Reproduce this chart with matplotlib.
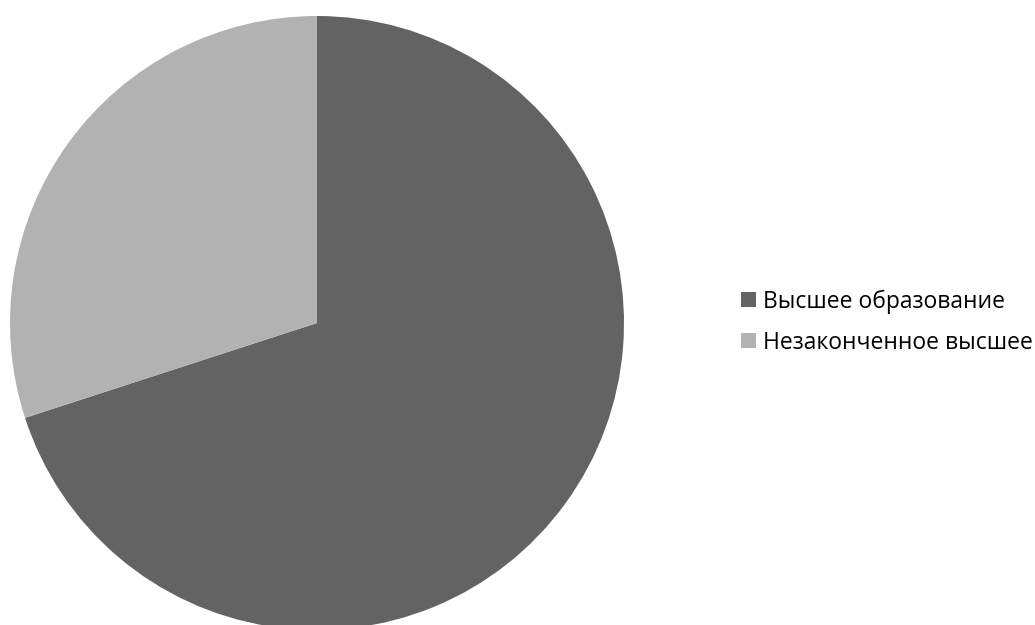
import matplotlib
matplotlib.use("Agg")
import matplotlib.pyplot as plt

categories = ["Высшее образование", "Незаконченное высшее"]
values = [70, 30]
colors = ["#636363", "#b2b2b2"]

W, H = 1035, 625
fig = plt.figure(figsize=(W / 100, H / 100), dpi=100)
cx, cy, r = 317, 323, 307
ax = fig.add_axes([(cx - r) / W, (H - cy - r) / H, 2 * r / W, 2 * r / H])
wedges, _ = ax.pie(values, colors=colors, startangle=90, counterclock=False,
                   radius=1, wedgeprops=dict(linewidth=0))
ax.set_xlim(-1, 1)
ax.set_ylim(-1, 1)
ax.set_aspect("equal")
ax.axis("off")

plt.rcParams['font.family'] = ['Open Sans', 'DejaVu Sans']
leg = fig.legend(wedges, categories, loc="center left",
                 bbox_to_anchor=(741 / W, 1 - 322 / H), frameon=False,
                 prop={'family': ['Open Sans', 'DejaVu Sans'], 'size': 16.5},
                 handlelength=0.65, handleheight=0.65, handletextpad=0.3,
                 labelspacing=0.75, borderaxespad=0, borderpad=0)
fig.savefig("out.png", dpi=100)
